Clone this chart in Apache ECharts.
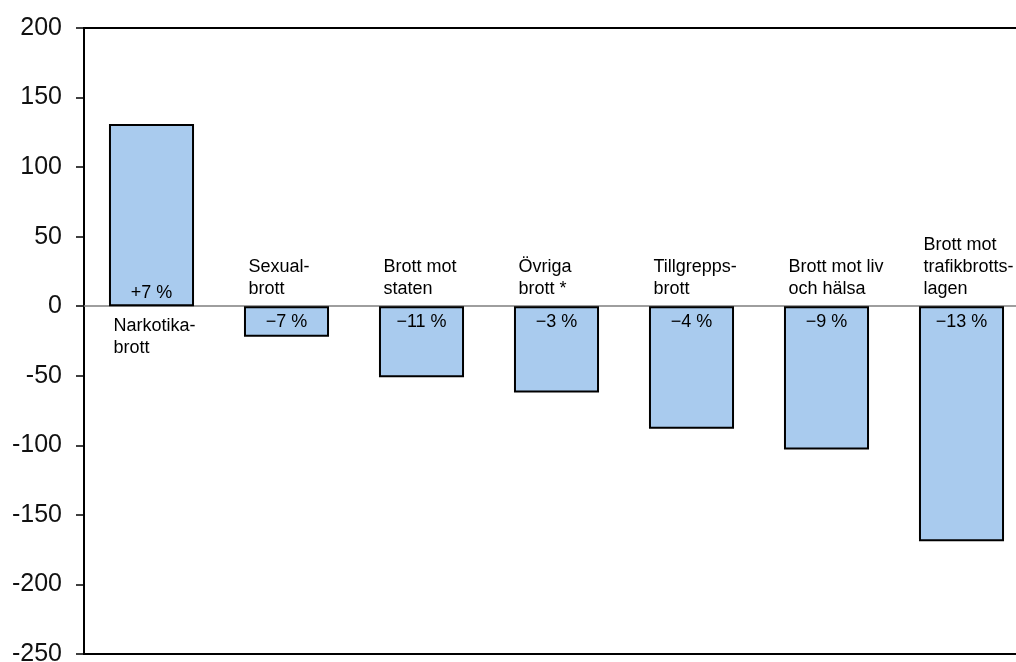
<!DOCTYPE html>
<html>
<head>
<meta charset="utf-8">
<script src="https://cdn.jsdelivr.net/npm/echarts@6/dist/echarts.min.js"></script>
<style>
  html, body { margin: 0; padding: 0; background: #fff; overflow: hidden; }
  #main { width: 1040px; height: 662px; }
</style>
</head>
<body>
<div id="main"></div>
<script>
var categories = [
	'Narkotika-\nbrott',
	'Sexual-\nbrott',
	'Brott mot\nstaten',
	'Övriga\nbrott *',
	'Tillgrepps-\nbrott',
	'Brott mot liv\noch hälsa',
	'Brott mot\ntrafikbrotts-\nlagen'
];
var changeValues = [131, -22, -51, -62, -88, -103, -169];
var percentLabels = ['+7 %', '\u22127 %', '\u221211 %', '\u22123 %', '\u22124 %', '\u22129 %', '\u221213 %'];
var yTicks = { min: -250, max: 200, interval: 50 };

var font = '"Liberation Sans", Arial, sans-serif';

var myChart = echarts.init(document.getElementById('main'));

// bars + percent labels near the zero line
var barData = changeValues.map(function (v, i) {
	return {
		value: v,
		label: {
			position: v >= 0 ? 'insideBottom' : 'insideTop',
			distance: v >= 0 ? 4 : 7,
			formatter: percentLabels[i]
		}
	};
});

// category names, placed on the other side of zero from the bar
var nameData = categories.map(function (c, i) {
	var up = changeValues[i] < 0;
	return {
		value: [i, 0],
		label: {
			position: up ? 'top' : 'bottom',
			distance: up ? 6 : 9,
			formatter: c
		}
	};
});

var option = {
	animation: false,
	grid: {
		left: 84,
		top: 28,
		width: 945,
		height: 626,
		outerBoundsMode: 'none',
		containLabel: false,
		show: true,
		borderColor: '#000',
		borderWidth: 2
	},
	xAxis: {
		type: 'category',
		data: categories,
		axisLine: { onZero: true, lineStyle: { color: '#7f7f7f', width: 1.5 } },
		axisTick: { show: false },
		axisLabel: { show: false },
		splitLine: { show: false }
	},
	yAxis: {
		type: 'value',
		min: yTicks.min,
		max: yTicks.max,
		interval: yTicks.interval,
		axisLine: { show: true, lineStyle: { color: '#000', width: 2 } },
		axisTick: { show: true, inside: false, length: 8, lineStyle: { color: '#000', width: 1.5 } },
		axisLabel: {
			margin: 22,
			color: '#111',
			fontFamily: font,
			fontSize: 25
		},
		splitLine: { show: false }
	},
	series: [
		{
			type: 'bar',
			data: barData,
			barWidth: '63%',
			itemStyle: { color: '#a9cbee', borderColor: '#000', borderWidth: 2 },
			label: {
				show: true,
				color: '#000',
				fontFamily: font,
				fontSize: 18
			}
		},
		{
			type: 'scatter',
			data: nameData,
			symbolSize: 0,
			silent: true,
			itemStyle: { opacity: 1 },
			label: {
				show: true,
				align: 'left',
				offset: [-38, 0],
				color: '#000',
				fontFamily: font,
				fontSize: 18,
				lineHeight: 22
			}
		}
	]
};

myChart.setOption(option);
</script>
</body>
</html>
